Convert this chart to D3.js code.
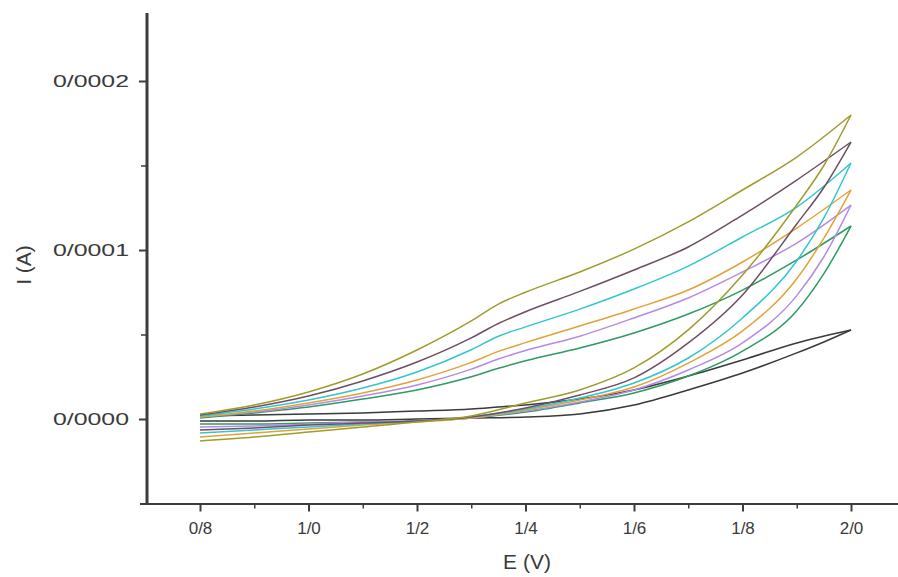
<!DOCTYPE html>
<html><head><meta charset="utf-8">
<script src="https://cdn.jsdelivr.net/npm/d3@7/dist/d3.min.js"></script>
<style>body{margin:0;background:#fff;overflow:hidden}</style>
</head><body><svg id="c" width="898" height="577"></svg>
<script>
// Potential grids (V)
const forwardE = [0.8,0.9,1.0,1.1,1.2,1.3,1.4,1.5,1.6,1.7,1.8,1.9,1.95,2.0];
const reverseE = [0.8,0.9,1.0,1.1,1.2,1.3,1.35,1.4,1.5,1.6,1.7,1.8,1.9,2.0];
// currents in units of 1e-4 A
const currentUnit = 1e-4;
const seriesNames = ["black","green","violet","orange","cyan","mauve","olive"];
const seriesColors = ["#3a3a3a","#2f9a62","#b58be6","#e0a33a","#33c6cf","#6e4e64","#a09c2c"];
// forward (lower) branches
const blackFwd  = [-0.012,-0.012,-0.006,-0.006,0.000,0.006,0.012,0.030,0.083,0.172,0.272,0.391,0.456,0.527];
const greenFwd  = [-0.030,-0.030,-0.024,-0.018,-0.012,0.006,0.041,0.095,0.154,0.254,0.402,0.640,0.860,1.142];
const violetFwd = [-0.047,-0.041,-0.030,-0.018,-0.012,0.006,0.047,0.101,0.172,0.290,0.450,0.730,0.960,1.266];
const orangeFwd = [-0.107,-0.083,-0.059,-0.036,-0.018,0.006,0.053,0.112,0.189,0.331,0.521,0.830,1.070,1.355];
const cyanFwd   = [-0.083,-0.065,-0.047,-0.030,-0.012,0.012,0.059,0.124,0.213,0.361,0.598,0.935,1.190,1.515];
const mauveFwd  = [-0.065,-0.053,-0.036,-0.024,-0.012,0.012,0.065,0.142,0.243,0.450,0.734,1.154,1.370,1.639];
const oliveFwd  = [-0.130,-0.107,-0.077,-0.047,-0.018,0.018,0.095,0.172,0.302,0.527,0.852,1.266,1.500,1.799];
// reverse (upper) branches
const blackRev  = [0.018,0.024,0.030,0.036,0.047,0.059,0.071,0.083,0.118,0.172,0.254,0.349,0.450,0.527];
const greenRev  = [0.006,0.036,0.071,0.118,0.172,0.250,0.300,0.345,0.420,0.509,0.621,0.763,0.941,1.142];
const violetRev = [0.012,0.041,0.083,0.136,0.201,0.295,0.355,0.405,0.490,0.598,0.716,0.870,1.041,1.266];
const orangeRev = [0.012,0.047,0.095,0.154,0.231,0.335,0.400,0.452,0.550,0.651,0.763,0.929,1.130,1.355];
const cyanRev   = [0.018,0.059,0.112,0.183,0.278,0.410,0.490,0.545,0.650,0.769,0.905,1.077,1.254,1.515];
const mauveRev  = [0.024,0.071,0.136,0.225,0.337,0.480,0.565,0.635,0.755,0.882,1.018,1.207,1.414,1.639];
const oliveRev  = [0.030,0.083,0.160,0.266,0.408,0.580,0.680,0.750,0.870,1.005,1.166,1.355,1.550,1.799];

const fwdSets = [blackFwd,greenFwd,violetFwd,orangeFwd,cyanFwd,mauveFwd,oliveFwd];
const revSets = [blackRev,greenRev,violetRev,orangeRev,cyanRev,mauveRev,oliveRev];

const xMajorTicks = [0.8,1.0,1.2,1.4,1.6,1.8,2.0];
const xMinorTicks = [0.9,1.1,1.3,1.5,1.7,1.9];
const xTickLabels = ["0/8","1/0","1/2","1/4","1/6","1/8","2/0"];
const yMajorTicks = [0,0.0001,0.0002];
const yMinorTicks = [-0.00005,0.00005,0.00015];
const yTickLabels = ["0/0000","0/0001","0/0002"];

const svg = d3.select("#c");
const x = d3.scaleLinear().domain([0.7,2.1]).range([145.75,905.25]);
const y = d3.scaleLinear().domain([-0.00005,0.00024]).range([503.5,13.4]);
const axisColor = "#3d3d3d";
const textColor = "#3a3a3a";

// curves
const line = d3.line().x(d=>x(d[0])).y(d=>y(d[1])).curve(d3.curveMonotoneX);
const g = svg.append("g");
seriesNames.forEach((name,i)=>{
  const fwd = forwardE.map((e,j)=>[e,fwdSets[i][j]*currentUnit]);
  const rev = reverseE.map((e,j)=>[e,revSets[i][j]*currentUnit]);
  [fwd,rev].forEach(pts=>{
    g.append("path").attr("d",line(pts)).attr("fill","none")
     .attr("stroke",seriesColors[i]).attr("stroke-width",1.5).attr("stroke-linejoin","round");
  });
});

// x axis
const xAxisG = svg.append("g").attr("transform","translate(0,503.5)");
xAxisG.call(d3.axisBottom(x).tickValues(xMajorTicks).tickSize(8).tickSizeOuter(0)
  .tickFormat((d,i)=>xTickLabels[i]));
const xMinorG = svg.append("g").attr("transform","translate(0,503.5)");
xMinorG.call(d3.axisBottom(x).tickValues(xMinorTicks).tickSize(5).tickSizeOuter(0).tickFormat(""));
xMinorG.select(".domain").remove();
xAxisG.select(".domain").attr("d","M140,0.5H898").attr("stroke",axisColor).attr("stroke-width",2);
xAxisG.selectAll(".tick line").attr("stroke",axisColor).attr("stroke-width",2);
xMinorG.selectAll(".tick line").attr("stroke",axisColor).attr("stroke-width",1.5);
xAxisG.selectAll(".tick text").attr("font-family","Liberation Sans, Arial, sans-serif")
  .attr("font-size",17).attr("fill",textColor).attr("dy","1.05em").attr("y",13);

// y axis
const yAxisG = svg.append("g").attr("transform","translate(147,0)");
yAxisG.call(d3.axisLeft(y).tickValues(yMajorTicks).tickSize(8).tickSizeOuter(0)
  .tickFormat((d,i)=>yTickLabels[i]));
const yMinorG = svg.append("g").attr("transform","translate(147,0)");
yMinorG.call(d3.axisLeft(y).tickValues(yMinorTicks).tickSize(6).tickSizeOuter(0).tickFormat(""));
yMinorG.select(".domain").remove();
yAxisG.select(".domain").attr("d","M0,13V504.5").attr("stroke",axisColor).attr("stroke-width",3);
yAxisG.selectAll(".tick line").attr("stroke",axisColor).attr("stroke-width",2);
yMinorG.selectAll(".tick line").attr("stroke",axisColor).attr("stroke-width",1.5);
yAxisG.selectAll(".tick text").attr("font-family","Liberation Sans, Arial, sans-serif")
  .attr("font-size",17).attr("fill",textColor).attr("x",-18)
  .attr("textLength",76).attr("lengthAdjust","spacingAndGlyphs");

// axis titles
svg.append("text").attr("x",527).attr("y",569).attr("text-anchor","middle")
  .attr("font-family","Liberation Sans, Arial, sans-serif").attr("font-size",21)
  .attr("fill",textColor).text("E (V)");
svg.append("text").attr("transform","translate(31,265) rotate(-90)").attr("text-anchor","middle")
  .attr("font-family","Liberation Sans, Arial, sans-serif").attr("font-size",21)
  .attr("fill",textColor).text("I (A)");
</script></body></html>
